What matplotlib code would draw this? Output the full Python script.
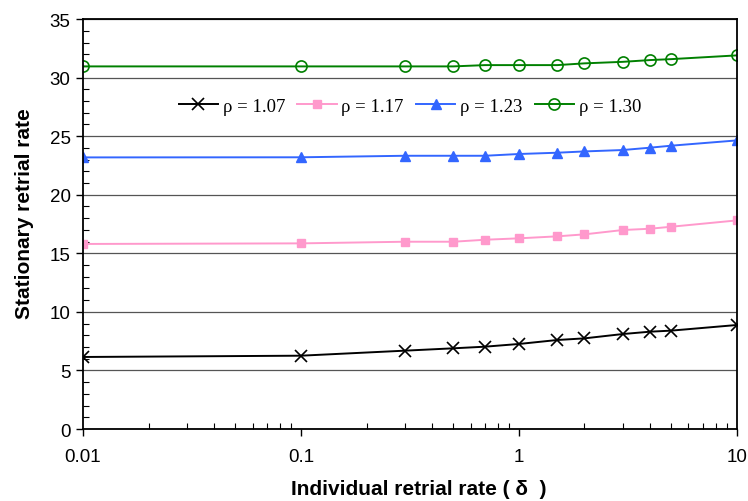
import matplotlib
matplotlib.use("Agg")
import matplotlib.pyplot as plt
import matplotlib.ticker as ticker

# retrial rate values (delta) where the curves were evaluated
delta = [0.01, 0.1, 0.3, 0.5, 0.7, 1, 1.5, 2, 3, 4, 5, 10]

rate_107 = [6.15, 6.26, 6.69, 6.89, 7.03, 7.26, 7.60, 7.74, 8.11, 8.31, 8.40, 8.88]
rate_117 = [15.80, 15.85, 15.99, 15.99, 16.16, 16.28, 16.45, 16.62, 16.99, 17.10, 17.27, 17.81]
rate_123 = [23.19, 23.20, 23.33, 23.33, 23.33, 23.48, 23.59, 23.70, 23.82, 24.02, 24.19, 24.64]
rate_130 = [30.96, 30.96, 30.96, 30.96, 31.07, 31.07, 31.07, 31.22, 31.35, 31.50, 31.58, 31.90]

labels = ["ρ = 1.07", "ρ = 1.17", "ρ = 1.23", "ρ = 1.30"]
x_ticks = [0.01, 0.1, 1, 10]
x_tick_labels = ["0.01", "0.1", "1", "10"]

sans = ["Liberation Sans", "DejaVu Sans"]

fig = plt.figure(figsize=(7.48, 5.02), dpi=100)
ax = fig.add_axes([0.111, 0.1434, 0.874, 0.8166])

ax.plot(delta, rate_107, color="black", lw=1.4, marker="x", ms=9, mew=1.2,
        label=labels[0])
ax.plot(delta, rate_117, color="#ff99cc", lw=1.4, marker="s", ms=6,
        label=labels[1])
ax.plot(delta, rate_123, color="#3366ff", lw=1.4, marker="^", ms=6.5,
        label=labels[2])
ax.plot(delta, rate_130, color="#008000", lw=1.4, marker="o", ms=8,
        mfc="none", mew=1.2, label=labels[3])

ax.set_xscale("log")
ax.set_xlim(0.01, 10)
ax.set_ylim(0, 35)
ax.set_xticks(x_ticks)
ax.set_xticklabels(x_tick_labels)
ax.xaxis.set_minor_locator(ticker.LogLocator(base=10, subs=range(2, 10)))
ax.xaxis.set_minor_formatter(ticker.NullFormatter())
ax.yaxis.set_major_locator(ticker.MultipleLocator(5))
ax.yaxis.set_minor_locator(ticker.MultipleLocator(1))

ax.tick_params(which="major", direction="out", length=5, width=1,
               labelsize=13.5, color="black")
ax.tick_params(which="minor", direction="in", length=4, width=0.8)
ax.tick_params(axis="x", pad=9)
ax.tick_params(axis="y", pad=4)
for lab in ax.get_xticklabels() + ax.get_yticklabels():
    lab.set_family(sans)

ax.grid(axis="y", which="major", color="#555555", lw=0.9)
ax.set_axisbelow(True)
for sp in ax.spines.values():
    sp.set_linewidth(1.3)

ax.set_xlabel("Individual retrial rate ( δ  )", fontsize=15, fontweight="bold",
              family=sans, labelpad=10, x=0.514)
ax.set_ylabel("Stationary retrial rate", fontsize=15, fontweight="bold",
              family=sans, labelpad=11, y=0.529)

ax.legend(loc="center", bbox_to_anchor=(0.5, 0.788), ncol=4, frameon=False,
          prop={"family": "Liberation Serif", "size": 13.5},
          handlelength=2.1, handletextpad=0.25, columnspacing=0.65)

fig.savefig("out.png", dpi=100)
